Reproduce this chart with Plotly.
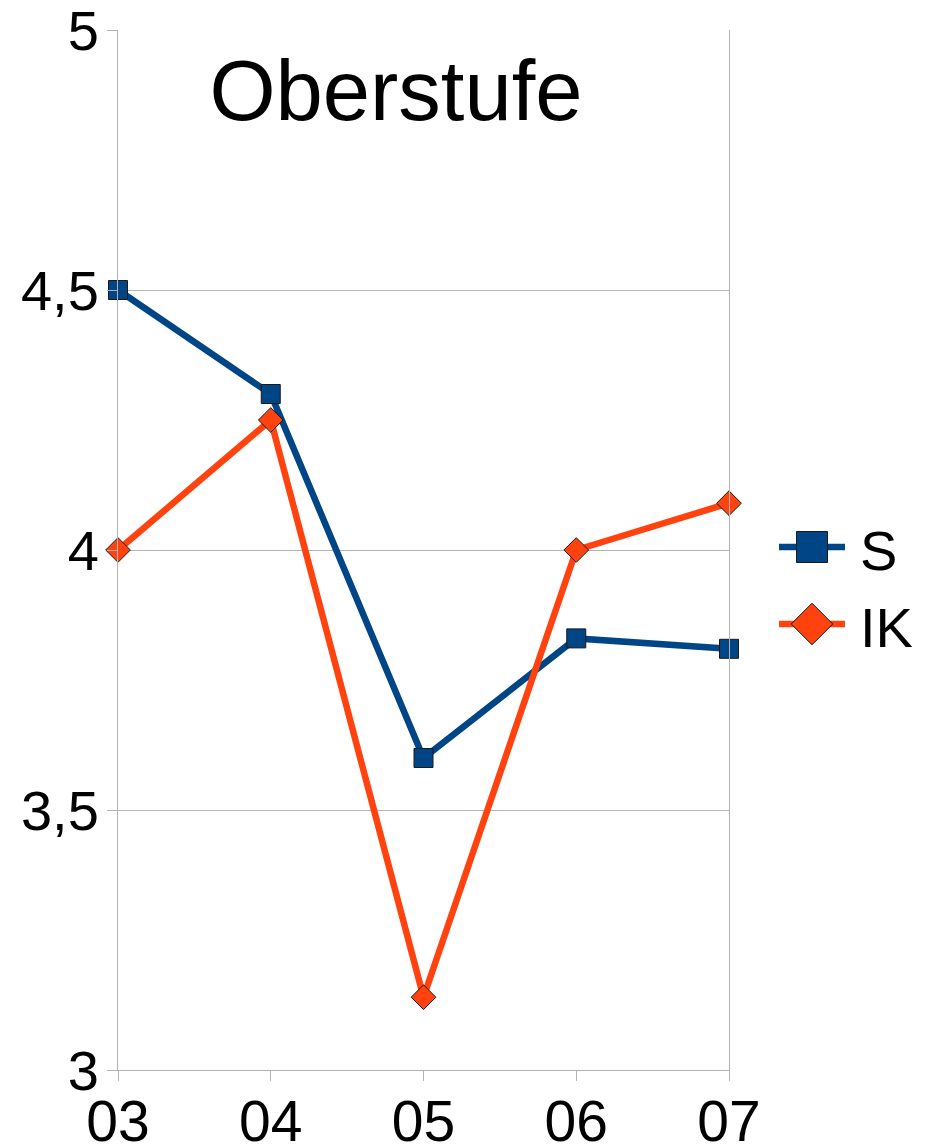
import plotly.graph_objects as go

categories = ["03", "04", "05", "06", "07"]
s_values = [4.5, 4.3, 3.6, 3.83, 3.81]
ik_values = [4.0, 4.25, 3.14, 4.0, 4.09]
y_tickvals = [3, 3.5, 4, 4.5, 5]
y_ticktext = ["3", "3,5", "4", "4,5", "5"]
series_names = ["S", "IK"]

BLUE = "#004586"
ORANGE = "#ff420e"
GRID = "#b3b3b3"
FONT = "Liberation Sans, Arial, sans-serif"

OFF = 8  # page body margin
W, H = 925, 1146
# plot area in page pixels
PL, PR, PT, PB = 118, 729, 30, 1070
L, R_PLOT, T, B = PL - OFF, PR - OFF, PT - OFF, PB - OFF
full_w = W - L
xdom_end = (R_PLOT - L) / full_w

xs = list(range(len(categories)))
LW = 6.5

fig = go.Figure()
fig.add_trace(go.Scatter(
    x=xs, y=s_values, mode="lines+markers", name=series_names[0],
    line=dict(color=BLUE, width=LW),
    marker=dict(symbol="square", size=19, color=BLUE, line=dict(color="#1a1a1a", width=1)),
    showlegend=False, cliponaxis=False))
fig.add_trace(go.Scatter(
    x=xs, y=ik_values, mode="lines+markers", name=series_names[1],
    line=dict(color=ORANGE, width=LW),
    marker=dict(symbol="diamond", size=19, color=ORANGE, line=dict(color="#1a1a1a", width=1)),
    showlegend=False, cliponaxis=False))

# custom legend (page-pixel overlay axes)
leg_rows = [547, 624]
leg_colors = [BLUE, ORANGE]
leg_symbols = ["square", "diamond"]
for name, yy, col, sym in zip(series_names, leg_rows, leg_colors, leg_symbols):
    fig.add_trace(go.Scatter(
        x=[779, 845], y=[yy, yy], mode="lines", line=dict(color=col, width=LW),
        xaxis="x2", yaxis="y2", showlegend=False, hoverinfo="skip", cliponaxis=False))
    fig.add_trace(go.Scatter(
        x=[812], y=[yy], mode="markers",
        marker=dict(symbol=sym, size=32 if sym == "diamond" else 31, color=col,
                    line=dict(color="#1a1a1a", width=1)),
        xaxis="x2", yaxis="y2", showlegend=False, hoverinfo="skip", cliponaxis=False))
    fig.add_annotation(x=858, y=yy + 3, xref="x2", yref="y2", text=name,
                       showarrow=False, xanchor="left", yanchor="middle",
                       font=dict(family=FONT, size=56, color="black"))

fig.update_layout(
    width=W, height=H,
    margin=dict(l=L, r=0, t=T, b=H - B, pad=0, autoexpand=False),
    paper_bgcolor="white", plot_bgcolor="rgba(0,0,0,0)",
    showlegend=False,
    title=dict(text="Oberstufe", x=(396 - OFF) / W, xanchor="center",
               y=1 - (90 - OFF) / H, yanchor="middle",
               font=dict(family=FONT, size=85, color="black"), automargin=False),
    xaxis=dict(domain=[0, xdom_end], range=[0, len(categories) - 1], automargin=False,
               tickvals=xs, ticktext=categories, showgrid=False, zeroline=False,
               showline=True, linecolor=GRID, linewidth=1,
               ticks="outside", ticklen=10, tickcolor=GRID, tickwidth=1,
               tickfont=dict(family=FONT, size=57, color="black"),
               ticklabelstandoff=-8, ticklabeloverflow="allow"),
    yaxis=dict(range=[3, 5], tickvals=y_tickvals, ticktext=y_ticktext, automargin=False,
               showgrid=True, gridcolor=GRID, gridwidth=1, zeroline=False,
               showline=True, mirror=True, linecolor=GRID, linewidth=1,
               ticks="outside", ticklen=10, tickcolor=GRID, tickwidth=1,
               tickfont=dict(family=FONT, size=56, color="black"),
               ticklabelstandoff=-3, ticklabeloverflow="allow"),
    xaxis2=dict(domain=[0, 1], range=[L + OFF, W + OFF], visible=False, fixedrange=True,
                automargin=False, anchor="y2", showgrid=False, zeroline=False),
    yaxis2=dict(domain=[0, 1], range=[B + OFF, T + OFF], visible=False, fixedrange=True,
                automargin=False, anchor="x2", showgrid=False, zeroline=False),
)

fig.write_html("out.html")
